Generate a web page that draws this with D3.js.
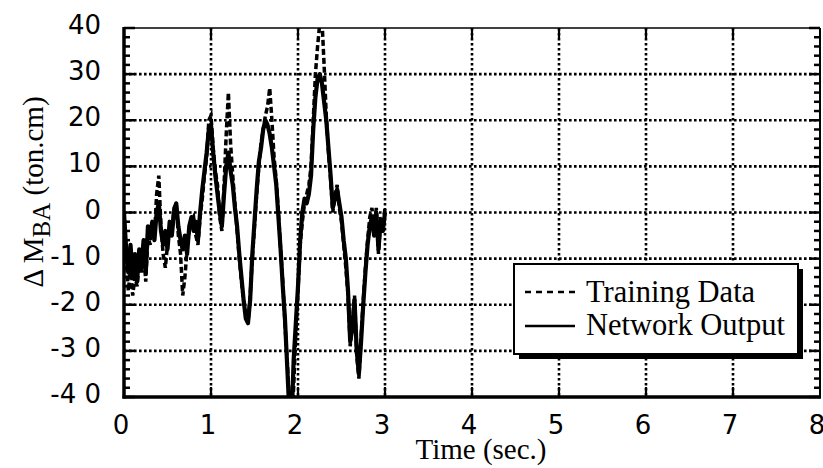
<!DOCTYPE html>
<html>
<head>
<meta charset="utf-8">
<script src="https://cdn.jsdelivr.net/npm/d3@7"></script>
<style>
  body { margin: 0; background: #fff; }
  svg { display: block; }
</style>
</head>
<body>
<div id="chart"></div>
<script>
// sample times (s), 0.025 s apart
var sampleStep = 0.025;

// Network Output, ton.cm
var networkOutput = [
  0, -8, -13, -7, -14, -9, -15, -8, -12, -6,
  -13, -3, -5, -2, -6, 0, 2, -4, -7, -4,
  -8, -2, -5, 0, 2, -3, -6, -8, -5, -9,
  -3, -1, -4, -2, -6, 0, 5, 9, 13, 18,
  19, 13, 8, 4, 0, -3, 4, 10, 13, 9,
  6, 1, -3, -9, -14, -19, -23, -24, -19, -9,
  -2, 5, 11, 14, 18, 20, 19, 17, 14, 10,
  6, -1, -8, -16, -23, -33, -43, -46, -32, -24,
  -16, -6, 0, 3, 2, 4, 8, 18, 25, 29,
  30, 28, 24, 20, 14, 8, 1, 3, 5, 2,
  -1, -6, -10, -17, -28, -25, -19, -30, -35, -28,
  -20, -13, -7, -3, -1, -5, 0, -8, -2, -4,
  0
];

// Training Data, ton.cm
var trainingData = [
  0, -10, -17, -12, -18, -14, -16, -11, -13, -8,
  -15, -5, -7, -3, -5, 4, 8, -3, -9, -12,
  -7, -3, -4, 1, 2, -5, -9, -18, -14, -8,
  -4, -2, -1, -5, -7, -1, 3, 8, 12, 20,
  21, 14, 9, 6, -1, -4, 6, 17, 26, 15,
  8, 2, -4, -10, -15, -19, -22, -24, -18, -10,
  -3, 4, 10, 15, 18, 21, 23, 27, 20, 12,
  7, 0, -8, -15, -24, -32, -40, -45, -38, -26,
  -17, -7, -2, 2, 4, 6, 10, 20, 30, 36,
  41, 42, 32, 21, 13, 7, 0, 4, 6, 1,
  -2, -7, -12, -18, -29, -24, -18, -31, -36, -27,
  -19, -12, -6, -1, 1, -4, 1, -9, -1, -3,
  1
];

var xTicks = [0, 1, 2, 3, 4, 5, 6, 7, 8];
var yTicks = [40, 30, 20, 10, 0, -10, -20, -30, -40];
var yTickLabels = ["40", "30", "20", "10", "0", "-1 0", "-2 0", "-3 0", "-4 0"];
var legendLabels = ["Training Data", "Network Output"];

var W = 823, H = 468;
var pLeft = 124, pRight = 820, pTop = 28, pBottom = 397;

var svg = d3.select("#chart").append("svg")
  .attr("width", W)
  .attr("height", H);

var x = d3.scaleLinear().domain([0, 8]).range([pLeft, pRight]);
var y = d3.scaleLinear().domain([-40, 40]).range([pBottom, pTop]);

// dotted grid
var grid = svg.append("g").attr("class", "grid");
grid.selectAll("line.gx")
  .data(xTicks.slice(1, -1))
  .enter().append("line")
  .attr("x1", function (d) { return x(d); })
  .attr("x2", function (d) { return x(d); })
  .attr("y1", pTop).attr("y2", pBottom)
  .attr("stroke", "#000").attr("stroke-width", 2.6)
  .attr("stroke-dasharray", "2.6,2.4");
grid.selectAll("line.gy")
  .data(yTicks.slice(1, -1))
  .enter().append("line")
  .attr("x1", pLeft).attr("x2", pRight)
  .attr("y1", function (d) { return y(d); })
  .attr("y2", function (d) { return y(d); })
  .attr("stroke", "#000").attr("stroke-width", 2.6)
  .attr("stroke-dasharray", "2.6,2.4");

// data lines
svg.append("clipPath").attr("id", "plotClip")
  .append("rect")
  .attr("x", pLeft).attr("y", pTop)
  .attr("width", pRight - pLeft).attr("height", pBottom - pTop);

var line = d3.line()
  .x(function (d, i) { return x(i * sampleStep); })
  .y(function (d) { return y(d); });

var lines = svg.append("g").attr("clip-path", "url(#plotClip)");
lines.append("path")
  .datum(trainingData)
  .attr("d", line)
  .attr("fill", "none")
  .attr("stroke", "#000")
  .attr("stroke-width", 3.5)
  .attr("stroke-dasharray", "6,3");
lines.append("path")
  .datum(networkOutput)
  .attr("d", line)
  .attr("fill", "none")
  .attr("stroke", "#000")
  .attr("stroke-width", 4.2)
  .attr("stroke-linejoin", "round");

// frame
var frame = svg.append("g");
frame.append("line").attr("x1", pLeft).attr("x2", pRight).attr("y1", pTop).attr("y2", pTop)
  .attr("stroke", "#000").attr("stroke-width", 1.5);
frame.append("line").attr("x1", pRight).attr("x2", pRight).attr("y1", pTop).attr("y2", pBottom)
  .attr("stroke", "#000").attr("stroke-width", 2);
frame.append("line").attr("x1", pLeft).attr("x2", pLeft).attr("y1", pTop - 1).attr("y2", pBottom + 1.5)
  .attr("stroke", "#000").attr("stroke-width", 3.5);
frame.append("line").attr("x1", pLeft - 1.5).attr("x2", pRight + 1).attr("y1", pBottom).attr("y2", pBottom)
  .attr("stroke", "#000").attr("stroke-width", 3.5);

// y ticks, inside left and right
var yMinor = d3.range(-40, 41, 2);
[[pLeft, 1], [pRight, -1]].forEach(function (side) {
  frame.selectAll(null)
    .data(yMinor)
    .enter().append("line")
    .attr("x1", side[0])
    .attr("x2", function (d) { return side[0] + side[1] * (d % 10 === 0 ? 11 : 6); })
    .attr("y1", function (d) { return y(d); })
    .attr("y2", function (d) { return y(d); })
    .attr("stroke", "#000")
    .attr("stroke-width", 2.5);
});

// x ticks, inside bottom and top
[[pBottom, -1], [pTop, 1]].forEach(function (side) {
  frame.selectAll(null)
    .data(xTicks.slice(1, -1))
    .enter().append("line")
    .attr("x1", function (d) { return x(d); })
    .attr("x2", function (d) { return x(d); })
    .attr("y1", side[0])
    .attr("y2", side[0] + side[1] * 10)
    .attr("stroke", "#000")
    .attr("stroke-width", 2.2);
});

// tick labels
svg.append("g").selectAll("text")
  .data(yTicks)
  .enter().append("text")
  .attr("x", 101)
  .attr("y", function (d) { return y(d) + 6; })
  .attr("text-anchor", "end")
  .attr("font-family", "DejaVu Sans")
  .attr("font-size", 26)
  .text(function (d, i) { return yTickLabels[i]; });

svg.append("g").selectAll("text")
  .data(xTicks)
  .enter().append("text")
  .attr("x", function (d) { return x(d) - 3; })
  .attr("y", 434)
  .attr("text-anchor", "middle")
  .attr("font-family", "DejaVu Sans")
  .attr("font-size", 26)
  .text(function (d) { return d; });

// axis titles
svg.append("text")
  .attr("x", 481).attr("y", 459)
  .attr("text-anchor", "middle")
  .attr("font-family", "Liberation Serif")
  .attr("font-size", 29)
  .text("Time (sec.)");

var yTitle = svg.append("text")
  .attr("transform", "translate(43,192) rotate(-90)")
  .attr("text-anchor", "middle")
  .attr("font-family", "Liberation Serif")
  .attr("font-size", 29);
yTitle.append("tspan").text("\u0394 M");
yTitle.append("tspan").attr("dy", 7).attr("font-size", 25).text("BA");
yTitle.append("tspan").attr("dy", -7).text(" (ton.cm)");

// legend
var lg = svg.append("g");
lg.append("rect")
  .attr("x", 519).attr("y", 269).attr("width", 284).attr("height", 90)
  .attr("fill", "#000");
lg.append("rect")
  .attr("x", 514).attr("y", 264).attr("width", 284).attr("height", 90)
  .attr("fill", "#fff").attr("stroke", "#000").attr("stroke-width", 2);
lg.append("line")
  .attr("x1", 525).attr("x2", 575).attr("y1", 292).attr("y2", 292)
  .attr("stroke", "#000").attr("stroke-width", 2.5).attr("stroke-dasharray", "6,5");
lg.append("line")
  .attr("x1", 525).attr("x2", 575).attr("y1", 326).attr("y2", 326)
  .attr("stroke", "#000").attr("stroke-width", 2.5);
lg.selectAll("text.lbl")
  .data(legendLabels)
  .enter().append("text")
  .attr("x", 586)
  .attr("y", function (d, i) { return 302 + i * 33; })
  .attr("font-family", "Liberation Serif")
  .attr("font-size", 30.5)
  .text(function (d) { return d; });
</script>
</body>
</html>
